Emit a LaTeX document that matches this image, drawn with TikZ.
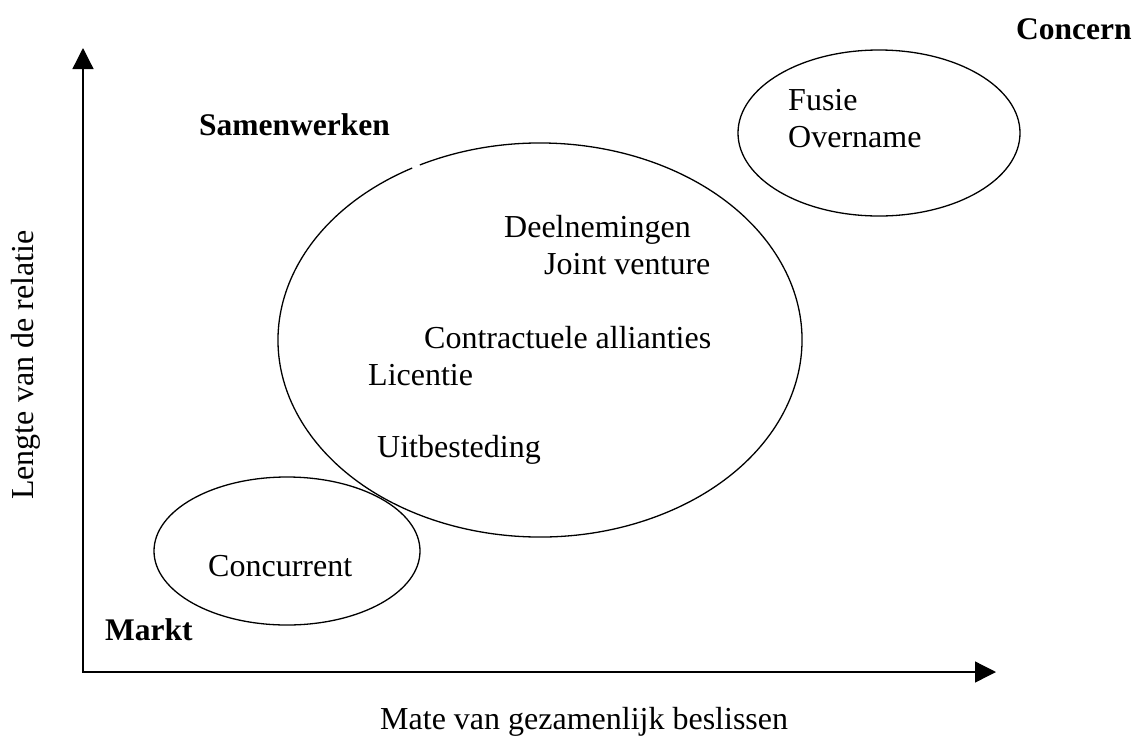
\documentclass[tikz,border=0pt]{standalone}
\usepackage{fontspec}
\setmainfont{Liberation Serif}
\usetikzlibrary{arrows.meta}
\begin{document}
\begin{tikzpicture}[x=1pt,y=-1pt,
  lbl/.style={inner sep=0pt,anchor=base west,font=\fontsize{32}{38}\selectfont},
  blbl/.style={lbl,font=\fontsize{31.5}{38}\selectfont\bfseries},
  curve/.style={line width=1.3pt},
  axis/.style={line width=1.3pt,{Triangle[length=21pt,width=21pt]}-{Triangle[length=21pt,width=21pt]}}]
\useasboundingbox (0,0) rectangle (1132,737);

% axes
\coordinate (origin) at (83,672);
\coordinate (ytip) at (83,48);
\coordinate (xtip) at (996,672);
\draw[axis] (ytip) -- (origin) -- (xtip);

% regions
\coordinate (marktc) at (287,551);
\coordinate (samenc) at (540,340);
\coordinate (concernc) at (879,133);
\draw[curve] (marktc) ellipse[x radius=133, y radius=74];
\draw[curve] ([shift={(242.7:262 and 197)}]samenc)
  arc[start angle=242.7, end angle=600.8, x radius=262, y radius=197];
\draw[curve] (concernc) ellipse[x radius=141, y radius=83];

% labels
\node[blbl] (concern) at (1016,39) {Concern};
\node[blbl] (samen) at (199,135) {Samenwerken};
\node[blbl] (markt) at (105,640) {Markt};
\node[lbl] (fusie) at (788,110) {Fusie};
\node[lbl] (overname) at (788,147) {Overname};
\node[lbl] (deel) at (504,237) {Deelnemingen};
\node[lbl] (joint) at (544,274) {Joint venture};
\node[lbl] (contract) at (424,348) {Contractuele allianties};
\node[lbl] (licentie) at (368,385) {Licentie};
\node[lbl] (uitbest) at (377,457) {Uitbesteding};
\node[lbl] (concurrent) at (208,576) {Concurrent};
\node[lbl] (xlabel) at (380,729) {Mate van gezamenlijk beslissen};
\node[lbl,rotate=90] (ylabel) at (33,500) {Lengte van de relatie};
\end{tikzpicture}
\end{document}
